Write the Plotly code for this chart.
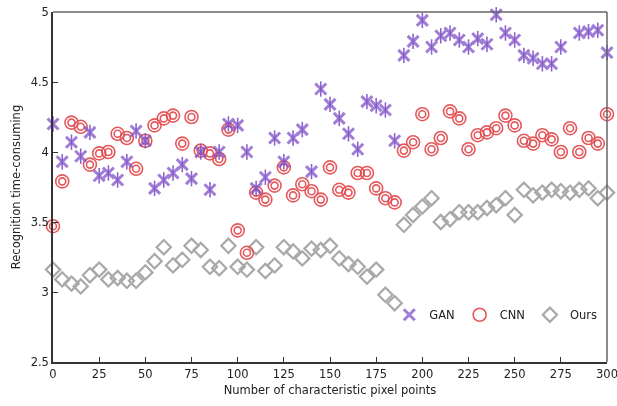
import plotly.graph_objects as go

x_points = list(range(0, 301, 5))

gan = [4.20, 3.93, 4.07, 3.97, 4.14, 3.83, 3.85, 3.80, 3.93, 4.15,
       4.08, 3.74, 3.80, 3.85, 3.91, 3.81, 4.00, 3.73, 4.00, 4.20,
       4.19, 4.00, 3.74, 3.82, 4.10, 3.93, 4.10, 4.16, 3.86, 4.45,
       4.34, 4.24, 4.13, 4.02, 4.36, 4.33, 4.30, 4.08, 4.69, 4.79,
       4.94, 4.75, 4.83, 4.85, 4.80, 4.75, 4.81, 4.77, 4.98, 4.85,
       4.80, 4.69, 4.67, 4.63, 4.63, 4.75, None, 4.85, 4.86, 4.87,
       4.71]

cnn = [3.47, 3.79, 4.21, 4.18, 3.91, 3.99, 4.00, 4.13, 4.10, 3.88,
       4.08, 4.19, 4.24, 4.26, 4.06, 4.25, 4.01, 3.99, 3.95, 4.16,
       3.44, 3.28, 3.71, 3.66, 3.76, 3.89, 3.69, 3.77, 3.72, 3.66,
       3.89, 3.73, 3.71, 3.85, 3.85, 3.74, 3.67, 3.64, 4.01, 4.07,
       4.27, 4.02, 4.10, 4.29, 4.24, 4.02, 4.12, 4.14, 4.17, 4.26,
       4.19, 4.08, 4.06, 4.12, 4.09, 4.00, 4.17, 4.00, 4.10, 4.06,
       4.27]

ours = [3.16, 3.09, 3.06, 3.04, 3.12, 3.16, 3.09, 3.10, 3.08, 3.08,
        3.14, 3.22, 3.32, 3.19, 3.23, 3.33, 3.30, 3.18, 3.17, 3.33,
        3.18, 3.16, 3.32, 3.15, 3.19, 3.32, 3.29, 3.24, 3.31, 3.30,
        3.33, 3.24, 3.20, 3.18, 3.11, 3.16, 2.98, 2.92, 3.48, 3.55,
        3.61, 3.67, 3.50, 3.52, 3.57, 3.57, 3.57, 3.60, 3.62, 3.67,
        3.55, 3.73, 3.69, 3.71, 3.73, 3.72, 3.71, 3.73, 3.74, 3.67,
        3.71]

x_ticks = list(range(0, 301, 25))
y_ticks = [2.5, 3, 3.5, 4, 4.5, 5]

GAN_C = "#8053C8"
CNN_C = "#E2474B"
OURS_C = "#A9A9A9"

fig = go.Figure()

fig.add_trace(go.Scatter(
    x=x_points, y=ours, mode="markers", name="Ours", legendrank=3,
    marker=dict(symbol="diamond-open", size=11, color=OURS_C,
                line=dict(width=2.2, color=OURS_C)),
    cliponaxis=False))

fig.add_trace(go.Scatter(
    x=x_points, y=cnn, mode="markers", name="CNN", legendgroup="cnn", legendrank=2,
    marker=dict(symbol="circle-open", size=13, color=CNN_C,
                line=dict(width=1.6, color=CNN_C)),
    opacity=0.9, cliponaxis=False))
fig.add_trace(go.Scatter(
    x=x_points, y=cnn, mode="markers", name="CNN", legendgroup="cnn", showlegend=False,
    marker=dict(symbol="circle-open", size=7, color=CNN_C,
                line=dict(width=1.6, color=CNN_C)),
    opacity=0.9, cliponaxis=False))

fig.add_trace(go.Scatter(
    x=x_points, y=gan, mode="markers", name="GAN", legendgroup="gan", legendrank=1,
    marker=dict(symbol="x-thin-open", size=11, color=GAN_C,
                line=dict(width=3, color=GAN_C)),
    opacity=0.75, cliponaxis=False))
fig.add_trace(go.Scatter(
    x=x_points, y=gan, mode="markers", name="GAN", legendgroup="gan", showlegend=False,
    marker=dict(symbol="line-ns-open", size=11, color=GAN_C,
                line=dict(width=1.6, color=GAN_C)),
    opacity=0.9, cliponaxis=False))

font_family = "DejaVu Sans, Verdana, sans-serif"

fig.update_layout(
    width=617, height=406,
    margin=dict(l=53, r=10, t=12, b=44, autoexpand=False),
    paper_bgcolor="white", plot_bgcolor="white",
    font=dict(family=font_family, size=11, color="#222222"),
    showlegend=True,
    legend=dict(orientation="h", x=0.607, y=0.135, xanchor="left", yanchor="middle",
                bgcolor="rgba(0,0,0,0)", font=dict(size=11.5, color="#222222"),
                itemwidth=30, tracegroupgap=0, traceorder="normal"),
    xaxis=dict(range=[0, 300], tickvals=x_ticks, ticks="inside", ticklen=5,
               tickcolor="#333333", showgrid=False, zeroline=False,
               showline=True, linecolor="#333333", linewidth=1.5,
               tickfont=dict(size=11.5), automargin=False,
               ticklabeloverflow="allow",
               title=dict(text="Number of characteristic pixel points",
                          font=dict(size=11.5), standoff=6)),
    yaxis=dict(range=[2.5, 5], tickvals=y_ticks, ticks="inside", ticklen=5,
               tickcolor="#333333", showgrid=False, zeroline=False,
               showline=True, linecolor="#333333", linewidth=1.5,
               tickfont=dict(size=11.5), automargin=False,
               ticklabeloverflow="allow",
               title=dict(text="Recognition time-consuming",
                          font=dict(size=11.5), standoff=8)),
    shapes=[dict(type="line", xref="paper", yref="paper", x0=0, x1=1, y0=1, y1=1,
                 line=dict(color="#666666", width=1.5)),
            dict(type="line", xref="paper", yref="paper", x0=1, x1=1, y0=0, y1=1,
                 line=dict(color="#666666", width=1.5))],
)

fig.write_html("out.html", config={"displayModeBar": False},
               post_script="document.body.style.margin='0';document.body.style.overflow='hidden';")
